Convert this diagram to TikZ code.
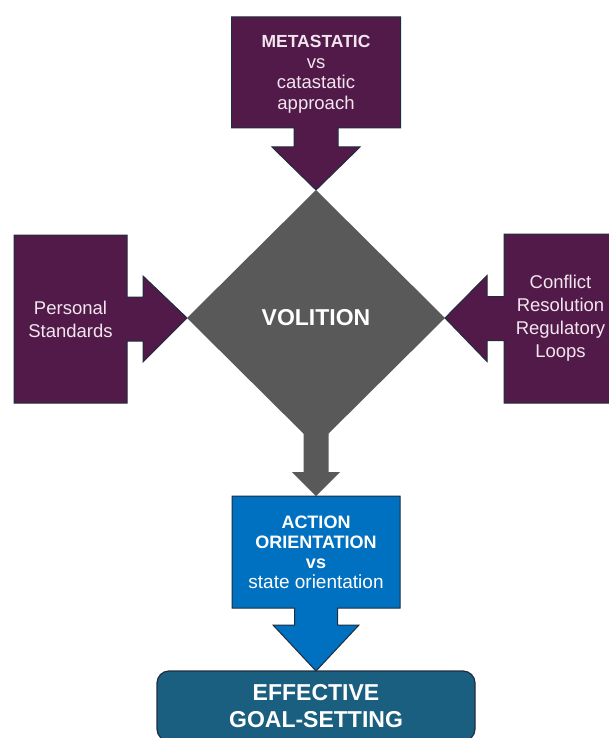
\documentclass[tikz,border=0pt]{standalone}
\usepackage{fontspec}
\setmainfont{Liberation Sans}
\usetikzlibrary{calc,shapes.geometric,backgrounds}

\definecolor{plum}{HTML}{521A48}
\definecolor{plumtext}{HTML}{F1E6EF}
\definecolor{slate}{HTML}{595959}
\definecolor{actblue}{HTML}{0070C0}
\definecolor{goalteal}{HTML}{1A5E80}
\definecolor{edge}{HTML}{1F2D3D}

\tikzset{
  box/.style={rectangle,inner sep=0pt,outer sep=0pt,align=center},
  plumbox/.style={box,text=plumtext,font=\fontsize{18.5}{23}\selectfont},
  tail/.style={draw=edge,line width=1pt,line join=miter},
}

\begin{document}
\begin{tikzpicture}[x=1pt,y=-1pt]
  % frame in pixel units, y runs downwards
  \useasboundingbox (0,0) rectangle (609,738);
  \clip (0,0) rectangle (609,738);

  % the centre diamond
  \node[diamond,fill=slate,minimum width=258pt,minimum height=256pt,
        inner sep=0pt,outer sep=0pt,text=white,
        font=\bfseries\fontsize{23}{27}\selectfont] (vol) at (316,318) {VOLITION};

  % text of the four boxes, their outlines go on the background layer
  \node[plumbox,minimum width=169pt,minimum height=111pt] (meta) at (316,72.5) {};
  \node[plumbox,font=\fontsize{18.5}{20.5}\selectfont] (metatext) at ($(meta.center)+(0,2)$)
    {{\bfseries\fontsize{17.5}{20.5}\selectfont METASTATIC}\\vs\\catastatic\\approach};
  \node[plumbox,minimum width=113pt,minimum height=168pt] (pers) at (70.5,319)
    {Personal\\Standards};
  \node[plumbox,minimum width=113pt,minimum height=169pt] (confl) at (560.5,318.5)
    {Conflict\\Resolution\\Regulatory\\Loops};
  \node[box,text=white,minimum width=168pt,minimum height=112pt,
        font=\fontsize{19}{20}\selectfont] (act) at (316,552)
    {{\bfseries\fontsize{18}{20}\selectfont ACTION}\\
     {\bfseries\fontsize{18}{20}\selectfont ORIENTATION}\\
     {\bfseries\fontsize{18}{20}\selectfont vs}\\state orientation};

  % bottom result box
  \node[box,fill=goalteal,draw=edge,line width=1.2pt,rounded corners=12pt,
        minimum width=318pt,minimum height=70pt,text=white,
        font=\bfseries\fontsize{23}{27}\selectfont] (goal) at (316,706)
    {EFFECTIVE\\GOAL-SETTING};

  \begin{scope}[on background layer]
    % grey stem leaving the diamond
    \fill[slate] ($(vol.south)+(-12.5,-21)$) -- ($(vol.south)+(12.5,-21)$)
      -- ($(vol.south)+(12.5,26)$) -- ($(vol.south)+(24,26)$) -- (act.north)
      -- ($(vol.south)+(-24,26)$) -- ($(vol.south)+(-12.5,26)$) -- cycle;

    % top callout, pointing down
    \path[tail,fill=plum] (meta.north west) -- (meta.north east) -- (meta.south east)
      -- ($(meta.south)+(22,0)$) -- ($(meta.south)+(22,19)$) -- ($(meta.south)+(44,19)$)
      -- (vol.north)
      -- ($(meta.south)+(-44,19)$) -- ($(meta.south)+(-22,19)$)
      -- ($(meta.south)+(-22,0)$) -- (meta.south west) -- cycle;

    % left callout, pointing right
    \path[tail,fill=plum] (pers.north west) -- (pers.north east)
      -- ($(pers.east)+(0,-22)$) -- ($(pers.east)+(16,-22)$) -- ($(pers.east)+(16,-43)$)
      -- (vol.west)
      -- ($(pers.east)+(16,43)$) -- ($(pers.east)+(16,22)$) -- ($(pers.east)+(0,22)$)
      -- (pers.south east) -- (pers.south west) -- cycle;

    % right callout, pointing left
    \path[tail,fill=plum] (confl.north east) -- (confl.north west)
      -- ($(confl.west)+(0,-22)$) -- ($(confl.west)+(-17,-22)$) -- ($(confl.west)+(-17,-43)$)
      -- (vol.east)
      -- ($(confl.west)+(-17,43)$) -- ($(confl.west)+(-17,22)$) -- ($(confl.west)+(0,22)$)
      -- (confl.south west) -- (confl.south east) -- cycle;

    % blue callout, pointing down to the result
    \path[tail,fill=actblue] (act.north west) -- (act.north east) -- (act.south east)
      -- ($(act.south)+(21.5,0)$) -- ($(act.south)+(21.5,17)$) -- ($(act.south)+(43,17)$)
      -- (goal.north)
      -- ($(act.south)+(-43,17)$) -- ($(act.south)+(-21.5,17)$)
      -- ($(act.south)+(-21.5,0)$) -- (act.south west) -- cycle;
  \end{scope}
\end{tikzpicture}
\end{document}
